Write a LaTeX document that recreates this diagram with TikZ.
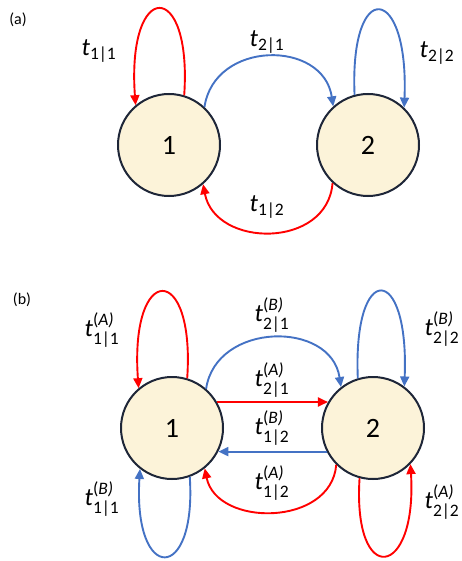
\documentclass[tikz,border=0pt]{standalone}
\usepackage{amsmath}
\usepackage{fontspec}
\setmainfont{Carlito}
\usetikzlibrary{arrows.meta}

\definecolor{lnred}{RGB}{255,0,0}
\definecolor{lnblue}{RGB}{68,114,196}
\definecolor{statefill}{RGB}{252,243,217}
\definecolor{stateline}{RGB}{30,38,56}

\newcommand{\tlab}[1]{$\mbox{\itshape t}_{\text{#1}}$}
\newcommand{\tlabs}[2]{$\mbox{\itshape t}^{\text{(\itshape #1)}}_{\text{#2}}$}

\begin{document}
\begin{tikzpicture}[x=1pt, y=-1pt,
		state/.style={circle, draw=stateline, fill=statefill, line width=2pt, minimum size=102pt, inner sep=0pt, font=\fontsize{28}{32}\selectfont},
		redarr/.style={draw=lnred, line width=1.9pt, -{Triangle[length=10pt,width=9pt]}},
		bluearr/.style={draw=lnblue, line width=1.9pt, -{Triangle[length=10pt,width=9pt]}},
		tlabel/.style={font=\fontsize{25}{29}\selectfont, inner sep=0pt},
		panel/.style={font=\fontsize{16}{19}\selectfont, inner sep=0pt}]
		\useasboundingbox (0,0) rectangle (462,561);

		% (a)
		\node[panel] (lbla) at (18,20) {(a)};
		\node[state] (a1) at (169,145) {1};
		\node[state] (a2) at (368,145) {2};

		\draw[redarr] (a1.73) .. controls +(8,-117) and +(-9,-126) .. (a1.130);
		\draw[bluearr] (a2.105) .. controls +(-5,-118) and +(5,-124) .. (a2.46);
		\draw[bluearr] (a1.47) .. controls +(10,-67) and +(-10,-67) .. (a2.132);
		\draw[redarr] (a2.227) .. controls +(-5,66) and +(12,64) .. (a1.-49);

		\node[tlabel] (t11a) at (99,51) {\tlab{1|1}};
		\node[tlabel] (t21a) at (267,42) {\tlab{2|1}};
		\node[tlabel] (t22a) at (437,53) {\tlab{2|2}};
		\node[tlabel] (t12a) at (267,207) {\tlab{1|2}};

		% (b)
		\node[panel] (lblb) at (22,300) {(b)};
		\node[state] (b1) at (172,428) {1};
		\node[state] (b2) at (373,428) {2};

		\draw[redarr] (b1.73) .. controls +(8,-117) and +(-9,-126) .. (b1.130);
		\draw[bluearr] (b2.107) .. controls +(-5,-118) and +(5,-124) .. (b2.53);
		\draw[bluearr] (b1.49) .. controls +(10,-67) and +(-10,-67) .. (b2.128);
		\draw[redarr] (b1.30) -- (b2.150);
		\draw[bluearr] (b2.207) -- (b1.-27);
		\draw[redarr] (b2.225) .. controls +(-5,62) and +(12,59) .. (b1.-51);
		\draw[bluearr] (b1.-70) .. controls +(7,107) and +(-7,115) .. (b1.-128);
		\draw[redarr] (b2.-105) .. controls +(-7,110) and +(7,115) .. (b2.-44);

		\node[tlabel] (t11b) at (102,330) {\tlabs{A}{1|1}};
		\node[tlabel] (t21bB) at (272,315) {\tlabs{B}{2|1}};
		\node[tlabel] (t21bA) at (272,380) {\tlabs{A}{2|1}};
		\node[tlabel] (t12bB) at (272,428) {\tlabs{B}{1|2}};
		\node[tlabel] (t12bA) at (272,483) {\tlabs{A}{1|2}};
		\node[tlabel] (t11bB) at (102,499) {\tlabs{B}{1|1}};
		\node[tlabel] (t22bB) at (442,329) {\tlabs{B}{2|2}};
		\node[tlabel] (t22bA) at (442,502) {\tlabs{A}{2|2}};
\end{tikzpicture}
\end{document}
